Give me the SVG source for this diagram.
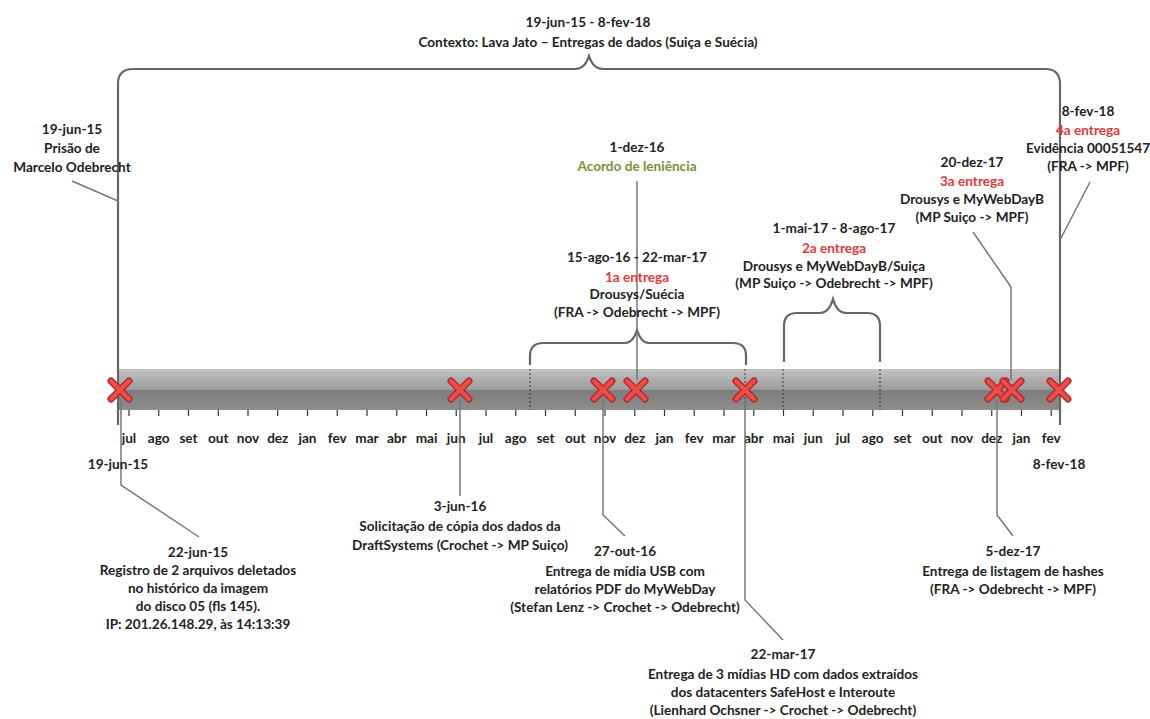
<svg xmlns="http://www.w3.org/2000/svg" xmlns:xlink="http://www.w3.org/1999/xlink" width="1150" height="719" viewBox="0 0 1150 719">
<style>
text{font-family:Lato,"Open Sans","Liberation Sans",sans-serif;font-weight:bold;font-size:13.6px;fill:#222;text-anchor:middle}
.red{fill:#e23a3a}
.grn{fill:#77923c}
.conn{stroke:#777;stroke-width:1.5;fill:none}
.brace{stroke:#666;stroke-width:2.2;fill:none}
.dash{stroke:#3a3a3a;stroke-width:1;stroke-dasharray:2,2;fill:none}
.tick{stroke:#333;stroke-width:1.2;fill:none}
</style>
<defs>
<linearGradient id="barg" x1="0" y1="0" x2="0" y2="1">
<stop offset="0" stop-color="#c2c2c2"/>
<stop offset="0.5" stop-color="#9c9c9c"/>
<stop offset="0.52" stop-color="#7d7d7d"/>
<stop offset="1" stop-color="#8e8e8e"/>
</linearGradient>
<g id="xm">
<path d="M-9,-9 L9,9 M-9,9 L9,-9" stroke="#b52a2a" stroke-width="7" stroke-linecap="round"/>
<path d="M-9,-9 L9,9 M-9,9 L9,-9" stroke="#ee4b4b" stroke-width="4" stroke-linecap="round"/>
</g>
</defs>
<rect width="1150" height="719" fill="#fff"/>

<g id="timeline-bar">
<rect x="118" y="369" width="942" height="41" fill="url(#barg)"/>
<path class="dash" d="M530,369 V410 M745,369 V410 M783,369 V410 M880,369 V410"/>
<path class="tick" d="M129,410v6M158.75,410v6M188.5,410v6M218.25,410v6M248,410v6M277.75,410v6M307.5,410v6M337.25,410v6M367,410v6M396.75,410v6M426.5,410v6M456.25,410v6M486,410v6M515.75,410v6M545.5,410v6M575.25,410v6M605,410v6M634.75,410v6M664.5,410v6M694.25,410v6M724,410v6M753.75,410v6M783.5,410v6M813.25,410v6M843,410v6M872.75,410v6M902.5,410v6M932.25,410v6M962,410v6M991.75,410v6M1021.5,410v6M1051.25,410v6"/>
</g>

<g id="months">
<text x="129" y="443">jul</text><text x="158.75" y="443">ago</text><text x="188.5" y="443">set</text><text x="218.25" y="443">out</text><text x="248" y="443">nov</text><text x="277.75" y="443">dez</text><text x="307.5" y="443">jan</text><text x="337.25" y="443">fev</text><text x="367" y="443">mar</text><text x="396.75" y="443">abr</text><text x="426.5" y="443">mai</text><text x="456.25" y="443">jun</text><text x="486" y="443">jul</text><text x="515.75" y="443">ago</text><text x="545.5" y="443">set</text><text x="575.25" y="443">out</text><text x="605" y="443">nov</text><text x="634.75" y="443">dez</text><text x="664.5" y="443">jan</text><text x="694.25" y="443">fev</text><text x="724" y="443">mar</text><text x="753.75" y="443">abr</text><text x="783.5" y="443">mai</text><text x="813.25" y="443">jun</text><text x="843" y="443">jul</text><text x="872.75" y="443">ago</text><text x="902.5" y="443">set</text><text x="932.25" y="443">out</text><text x="962" y="443">nov</text><text x="991.75" y="443">dez</text><text x="1021.5" y="443">jan</text><text x="1051.25" y="443">fev</text>
</g>

<g id="connectors">
<path class="brace" d="M118,425 V84 Q118,69 133,69 H575 Q585,69 589,56 Q593,69 603,69 H1045 Q1060,69 1060,84 V425"/>
<path class="brace" d="M530,365 V356 Q530,343 543,343 H625 Q633,343 637,330 Q641,343 649,343 H733 Q746,343 746,356 V365"/>
<path class="brace" d="M784,362 V326 Q784,313 797,313 H820 Q829,313 833,299 Q837,313 846,313 H867 Q880,313 880,326 V362"/>
<path class="conn" d="M72,181 L118,201"/>
<path class="conn" d="M637,181 V380"/>
<path class="conn" d="M1090,182 L1060,240"/>
<path class="conn" d="M973,232 L1011,287 V380"/>
<path class="conn" d="M121,400 V485 L199,537"/>
<path class="conn" d="M460,400 V496"/>
<path class="conn" d="M603,400 V515 L625,536"/>
<path class="conn" d="M745,400 V600 L783,640"/>
<path class="conn" d="M997,400 V515 L1013,536"/>
</g>

<g id="markers">
<use xlink:href="#xm" x="120" y="390"/>
<use xlink:href="#xm" x="460" y="390"/>
<use xlink:href="#xm" x="603" y="390"/>
<use xlink:href="#xm" x="636" y="390"/>
<use xlink:href="#xm" x="745" y="390"/>
<use xlink:href="#xm" x="997" y="390"/>
<use xlink:href="#xm" x="1012" y="390"/>
<use xlink:href="#xm" x="1059" y="390"/>
</g>

<g id="context">
<text x="588" y="27">19-jun-15 - 8-fev-18</text>
<text x="588" y="47">Contexto: Lava Jato – Entregas de dados (Suiça e Suécia)</text>
</g>

<g id="prisao">
<text x="72" y="134">19-jun-15</text>
<text x="72" y="153">Prisão de</text>
<text x="72" y="172">Marcelo Odebrecht</text>
</g>

<g id="acordo">
<text x="637" y="152">1-dez-16</text>
<text class="grn" x="637" y="171">Acordo de leniência</text>
</g>

<g id="entrega4">
<text x="1088" y="116">8-fev-18</text>
<text class="red" x="1088" y="135">4a entrega</text>
<text x="1088" y="153">Evidência 00051547</text>
<text x="1088" y="171">(FRA -&gt; MPF)</text>
</g>

<g id="entrega3">
<text x="972" y="167">20-dez-17</text>
<text class="red" x="972" y="186">3a entrega</text>
<text x="972" y="204">Drousys e MyWebDayB</text>
<text x="972" y="222">(MP Suiço -&gt; MPF)</text>
</g>

<g id="entrega2">
<text x="834" y="233">1-mai-17 - 8-ago-17</text>
<text class="red" x="834" y="253">2a entrega</text>
<text x="834" y="271">Drousys e MyWebDayB/Suiça</text>
<text x="834" y="288">(MP Suiço -&gt; Odebrecht -&gt; MPF)</text>
</g>

<g id="entrega1">
<text x="637" y="262">15-ago-16 - 22-mar-17</text>
<text class="red" x="637" y="282">1a entrega</text>
<text x="637" y="299">Drousys/Suécia</text>
<text x="637" y="317">(FRA -&gt; Odebrecht -&gt; MPF)</text>
</g>

<g id="start-date">
<text x="118" y="469">19-jun-15</text>
</g>

<g id="end-date">
<text x="1059" y="469">8-fev-18</text>
</g>

<g id="registro">
<text x="198" y="557">22-jun-15</text>
<text x="198" y="575">Registro de 2 arquivos deletados</text>
<text x="198" y="593">no histórico da imagem</text>
<text x="198" y="611">do disco 05 (fls 145).</text>
<text x="198" y="629">IP: 201.26.148.29, às 14:13:39</text>
</g>

<g id="solicitacao">
<text x="460" y="511">3-jun-16</text>
<text x="460" y="531">Solicitação de cópia dos dados da</text>
<text x="460" y="550">DraftSystems (Crochet -&gt; MP Suiço)</text>
</g>

<g id="midia-usb">
<text x="625" y="556">27-out-16</text>
<text x="625" y="576">Entrega de mídia USB com</text>
<text x="625" y="594">relatórios PDF do MyWebDay</text>
<text x="625" y="612">(Stefan Lenz -&gt; Crochet -&gt; Odebrecht)</text>
</g>

<g id="midias-hd">
<text x="783" y="659">22-mar-17</text>
<text x="783" y="679">Entrega de 3 mídias HD com dados extraídos</text>
<text x="783" y="697">dos datacenters SafeHost e Interoute</text>
<text x="783" y="715">(Lienhard Ochsner -&gt; Crochet -&gt; Odebrecht)</text>
</g>

<g id="hashes">
<text x="1013" y="556">5-dez-17</text>
<text x="1013" y="576">Entrega de listagem de hashes</text>
<text x="1013" y="594">(FRA -&gt; Odebrecht -&gt; MPF)</text>
</g>
</svg>
